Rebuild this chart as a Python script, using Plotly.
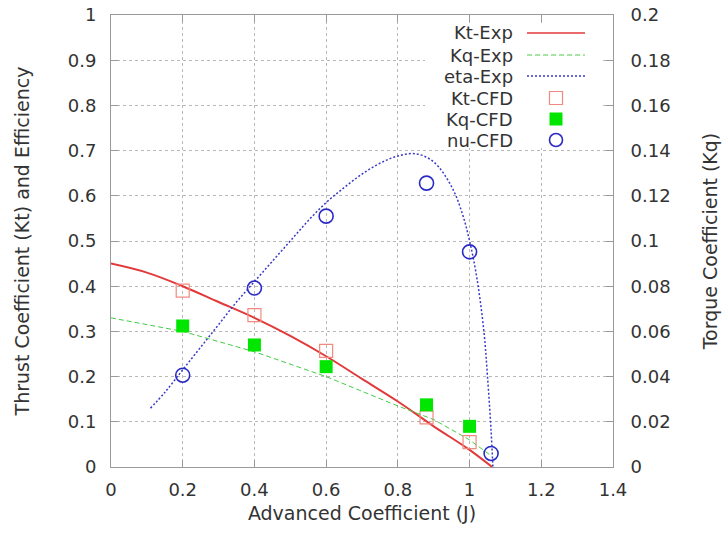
import plotly.graph_objects as go

# ---------------- data ----------------
kt_exp_J = [0.0, 0.1, 0.2, 0.3, 0.4, 0.5, 0.6, 0.7, 0.8, 0.9, 1.0, 1.063]
kt_exp = [0.45, 0.43, 0.40, 0.365, 0.33, 0.29, 0.245, 0.195, 0.145, 0.09, 0.038, 0.0]

kq_exp_J = [0.0, 0.2, 0.4, 0.6, 0.8, 0.9, 1.0, 1.06]
kq_exp = [0.066, 0.060, 0.051, 0.040, 0.027, 0.021, 0.012, 0.005]

eta_exp_J = [0.11, 0.15, 0.2, 0.25, 0.3, 0.35, 0.4, 0.45, 0.5, 0.55, 0.6, 0.65,
             0.7, 0.75, 0.8, 0.85, 0.9, 0.95, 0.98, 1.0, 1.02, 1.04, 1.05, 1.06, 1.065]
eta_exp = [0.13, 0.165, 0.215, 0.265, 0.315, 0.365, 0.41, 0.455, 0.5, 0.545, 0.585, 0.618,
           0.648, 0.672, 0.688, 0.693, 0.675, 0.62, 0.56, 0.50, 0.42, 0.30, 0.20, 0.08, 0.0]

cfd_J = [0.2, 0.4, 0.6, 0.88, 1.0]
kt_cfd = [0.39, 0.336, 0.257, 0.11, 0.055]
kq_cfd = [0.0624, 0.054, 0.0444, 0.0275, 0.018]
nu_cfd_J = [0.2, 0.4, 0.6, 0.88, 1.0, 1.06]
nu_cfd = [0.203, 0.396, 0.555, 0.628, 0.476, 0.03]

legend_labels = ["Kt-Exp", "Kq-Exp", "eta-Exp", "Kt-CFD", "Kq-CFD", "nu-CFD"]

# ---------------- styles ----------------
C_KT_LINE = "#e23a3a"
C_KT_PT = "#f08a80"
C_KQ_LINE = "#44cc44"
C_KQ_PT = "#00e600"
C_ETA = "#3a3ac8"
C_NU = "#2a2ac4"
FONT = "DejaVu Sans"
TXT = "#333333"
AX = "#9a9a9a"

W, H = 727, 535
L, R, T, B = 111, 613, 15, 467


def px(xp):
    return (xp - L) / (R - L)


def py(yp):
    return (B - yp) / (B - T)


fig = go.Figure()
fig.add_trace(go.Scatter(x=kt_exp_J, y=kt_exp, mode="lines", name="Kt-Exp",
                         line=dict(color=C_KT_LINE, width=2), line_shape="spline"))
fig.add_trace(go.Scatter(x=kq_exp_J, y=kq_exp, mode="lines", name="Kq-Exp", yaxis="y2",
                         line=dict(color=C_KQ_LINE, width=1, dash="5px,3px")))
fig.add_trace(go.Scatter(x=eta_exp_J, y=eta_exp, mode="lines", name="eta-Exp",
                         line=dict(color=C_ETA, width=1.5, dash="2px,2px"), line_shape="spline"))
fig.add_trace(go.Scatter(x=cfd_J, y=kt_cfd, mode="markers", name="Kt-CFD",
                         marker=dict(symbol="square-open", size=13, color=C_KT_PT,
                                     line=dict(width=1.2, color=C_KT_PT))))
fig.add_trace(go.Scatter(x=cfd_J, y=kq_cfd, mode="markers", name="Kq-CFD", yaxis="y2",
                         marker=dict(symbol="square", size=13, color=C_KQ_PT,
                                     line=dict(width=0))))
fig.add_trace(go.Scatter(x=nu_cfd_J, y=nu_cfd, mode="markers", name="nu-CFD",
                         marker=dict(symbol="circle-open", size=14, color=C_NU,
                                     line=dict(width=1.6, color=C_NU))))

axis_common = dict(showline=True, linecolor=AX, linewidth=1, ticks="inside", ticklen=7,
                   tickcolor=AX, showgrid=True, gridcolor="#b8b8b8", griddash="dot",
                   gridwidth=1, zeroline=False, automargin=False,
                   tickfont=dict(family=FONT, size=18, color=TXT))

fig.update_layout(
    width=W, height=H,
    margin=dict(l=L, r=W - R, t=T, b=H - B),
    paper_bgcolor="white", plot_bgcolor="white",
    showlegend=False,
    font=dict(family=FONT, size=18, color=TXT),
    xaxis=dict(range=[0, 1.4], dtick=0.2, tick0=0, mirror="ticks",
               title=dict(text="Advanced Coefficient (J)", font=dict(family=FONT, size=19, color=TXT),
                          standoff=8),
               ticklabelstandoff=6, **axis_common),
    yaxis=dict(range=[0, 1], dtick=0.1, tick0=0, mirror="ticks",
               title=dict(text="Thrust Coefficient (Kt) and Efficiency",
                          font=dict(family=FONT, size=19, color=TXT), standoff=33),
               ticklabelstandoff=10, **axis_common),
    yaxis2=dict(range=[0, 0.2], dtick=0.02, tick0=0, overlaying="y", side="right",
                title=dict(text="Torque Coefficient (Kq)", font=dict(family=FONT, size=19, color=TXT),
                           standoff=34),
                ticklabelstandoff=13,
                **{**axis_common, "showgrid": False}),
)

# ---------------- gnuplot-style key (text left, sample right) ----------------
shapes = [dict(type="rect", xref="paper", yref="paper", x0=px(425), x1=px(601),
               y0=py(148), y1=py(23), fillcolor="white", line=dict(width=0), layer="above")]
rows = [33, 55, 76, 98, 119, 140]
annotations = []
for lab, r in zip(legend_labels, rows):
    annotations.append(dict(text=lab, xref="paper", yref="paper", x=px(514), y=py(r),
                            xanchor="right", yanchor="middle", showarrow=False,
                            borderpad=0,
                            font=dict(family=FONT, size=18, color=TXT)))
line_styles = [(C_KT_LINE, 1.5, "solid"), (C_KQ_LINE, 1, "5px,3px"), (C_ETA, 1.5, "2px,2px")]
for (col, w, d), r in zip(line_styles, rows[:3]):
    shapes.append(dict(type="line", xref="paper", yref="paper", x0=px(527), x1=px(585),
                       y0=py(r), y1=py(r), line=dict(color=col, width=w, dash=d), layer="above"))
mx = px(556)
shapes.append(dict(type="rect", xref="paper", yref="paper", xsizemode="pixel", ysizemode="pixel",
                   xanchor=mx, yanchor=py(rows[3]), x0=-6.5, x1=6.5, y0=-6.5, y1=6.5,
                   line=dict(color=C_KT_PT, width=1.2), fillcolor="rgba(0,0,0,0)", layer="above"))
shapes.append(dict(type="rect", xref="paper", yref="paper", xsizemode="pixel", ysizemode="pixel",
                   xanchor=mx, yanchor=py(rows[4]), x0=-6.5, x1=6.5, y0=-6.5, y1=6.5,
                   line=dict(width=0), fillcolor=C_KQ_PT, layer="above"))
shapes.append(dict(type="circle", xref="paper", yref="paper", xsizemode="pixel", ysizemode="pixel",
                   xanchor=mx, yanchor=py(rows[5]), x0=-6.5, x1=6.5, y0=-6.5, y1=6.5,
                   line=dict(color=C_NU, width=1.6), fillcolor="rgba(0,0,0,0)", layer="above"))

fig.update_layout(shapes=shapes, annotations=annotations)
fig.write_html("out.html")
